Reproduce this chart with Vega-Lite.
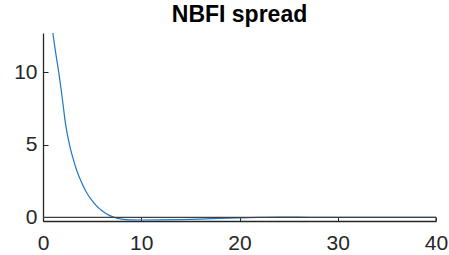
{
  "$schema": "https://vega.github.io/schema/vega-lite/v6.json",
  "width": 393,
  "height": 188,
  "autosize": {"type": "none"},
  "padding": {"left": 43, "top": 33, "right": 13, "bottom": 34},
  "background": "white",
  "title": {"text": "NBFI spread", "font": "Liberation Sans", "fontSize": 23, "fontWeight": "bold", "color": "#000000", "offset": 6, "anchor": "middle"},
  "config": {"view": {"stroke": null}},
  "layer": [
    {
      "data": {"values": [
        {"x": 1, "y": 12.7}, {"x": 1.3, "y": 11.3}, {"x": 1.6, "y": 10.0}, {"x": 2.0, "y": 8.0},
        {"x": 2.3, "y": 6.4}, {"x": 2.7, "y": 5.0}, {"x": 3.0, "y": 4.2}, {"x": 3.4, "y": 3.3},
        {"x": 4.0, "y": 2.3}, {"x": 4.4, "y": 1.75}, {"x": 5.0, "y": 1.15}, {"x": 5.4, "y": 0.82},
        {"x": 6.0, "y": 0.45}, {"x": 6.8, "y": 0.12}, {"x": 7.5, "y": -0.05}, {"x": 8, "y": -0.12},
        {"x": 9, "y": -0.17}, {"x": 10, "y": -0.18}, {"x": 12, "y": -0.17}, {"x": 14, "y": -0.15},
        {"x": 16, "y": -0.12}, {"x": 18, "y": -0.07}, {"x": 20, "y": -0.03}, {"x": 22, "y": 0.0},
        {"x": 24, "y": 0.02}, {"x": 26, "y": 0.015}, {"x": 28, "y": 0.005}, {"x": 30, "y": 0.0},
        {"x": 32, "y": 0.0}, {"x": 36, "y": 0.0}, {"x": 40, "y": 0.0}
      ]},
      "mark": {"type": "line", "color": "#1f77c4", "strokeWidth": 1.2, "clip": true, "interpolate": "monotone"},
      "encoding": {
        "x": {"field": "x", "type": "quantitative", "scale": {"domain": [0, 40], "nice": false, "zero": false},
          "axis": {"values": [0, 10, 20, 30, 40], "title": null, "grid": false, "labelFlush": false, "labelOverlap": false, "domainColor": "#262626", "tickColor": "#262626", "tickSize": -4, "labelPadding": 15, "labelFont": "Liberation Sans", "labelFontSize": 21, "labelColor": "#262626", "domainWidth": 1.3, "tickWidth": 1}},
        "y": {"field": "y", "type": "quantitative", "scale": {"domain": [-0.25, 12.7], "nice": false, "zero": false},
          "axis": {"values": [0, 5, 10], "title": null, "grid": false, "labelFlush": false, "labelOverlap": false, "domainColor": "#262626", "tickColor": "#262626", "tickSize": -5, "labelPadding": 11, "labelFont": "Liberation Sans", "labelFontSize": 21, "labelColor": "#262626", "domainWidth": 1.3, "tickWidth": 1}}
      }
    },
    {
      "data": {"values": [{"y": 0}]},
      "mark": {"type": "rule", "color": "#404040", "strokeWidth": 1.3},
      "encoding": {"y": {"field": "y", "type": "quantitative"}}
    },
    {
      "data": {"values": [{"x": 40, "y": -0.25, "y2": 0}]},
      "mark": {"type": "rule", "color": "#404040", "strokeWidth": 1.3},
      "encoding": {
        "x": {"field": "x", "type": "quantitative"},
        "y": {"field": "y", "type": "quantitative"},
        "y2": {"field": "y2"}
      }
    }
  ]
}
